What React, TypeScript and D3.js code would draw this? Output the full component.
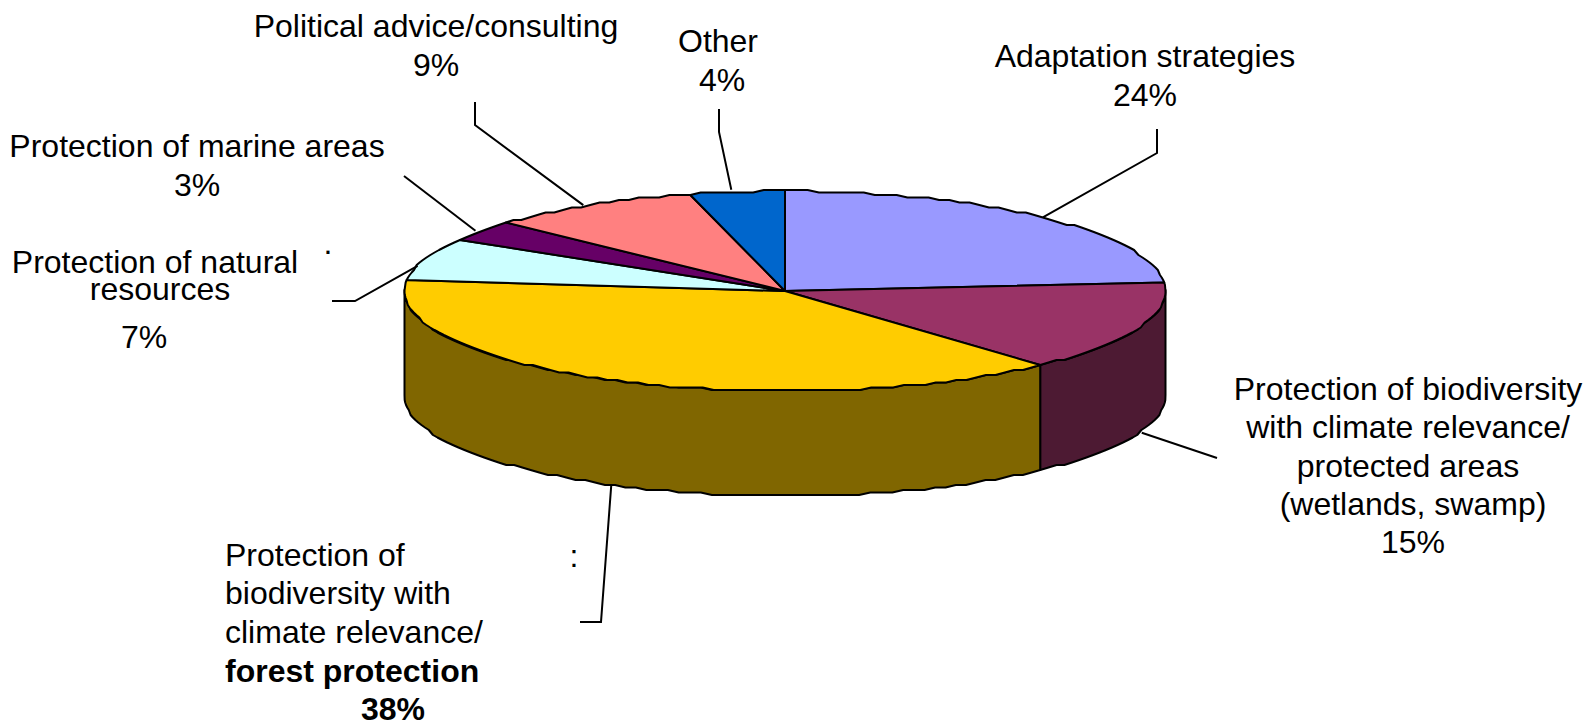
import React from 'react';
import * as d3 from 'd3';

const categories = [
  'Adaptation strategies',
  'Protection of biodiversity with climate relevance/protected areas',
  'Protection of biodiversity with climate relevance/forest protection',
  'Protection of natural resources',
  'Protection of marine areas',
  'Political advice/consulting',
  'Other',
];
const shares = [23.7, 14.6, 38.4, 7, 3.2, 9.1, 4];
const topColors = ['#9999FF', '#993366', '#FFCC00', '#CCFFFF', '#660066', '#FF8080', '#0066CC'];
const sideColors = ['#4D4D80', '#4D1A33', '#806600', '#668080', '#330033', '#804040', '#003366'];

// elbows of the leader lines, the last point is worked out from the slice
const leaderElbows: [number, number][][] = [
  [[1157, 129], [1157, 153]],
  [[1217, 458]],
  [[580, 622], [601, 622]],
  [[332, 301], [355, 301]],
  [[404, 176]],
  [[475, 102], [475, 125]],
  [[719, 109], [719, 132]],
];
// leaders do not hit the rim exactly at the middle of the slice
const leaderNudge: [number, number][] = [
  [0, 0],
  [3, 0],
  [-1, 0],
  [-7, 7],
  [-6, 0],
  [-7, 0],
  [-6, -2],
];

type Line = { t: string; x: number; y: number; bold?: boolean; anchor?: string };
const labels: Line[] = [
  { t: 'Adaptation strategies', x: 1145, y: 67 },
  { t: '24%', x: 1145, y: 106 },
  { t: 'Political advice/consulting', x: 436, y: 37 },
  { t: '9%', x: 436, y: 76 },
  { t: 'Other', x: 718, y: 52 },
  { t: '4%', x: 722, y: 91 },
  { t: 'Protection of marine areas', x: 197, y: 157 },
  { t: '3%', x: 197, y: 196 },
  { t: 'Protection of natural', x: 155, y: 273 },
  { t: 'resources', x: 160, y: 300 },
  { t: '7%', x: 144, y: 348 },
  { t: 'Protection of biodiversity', x: 1408, y: 400 },
  { t: 'with climate relevance/', x: 1408, y: 438 },
  { t: 'protected areas', x: 1408, y: 477 },
  { t: '(wetlands, swamp)', x: 1413, y: 515 },
  { t: '15%', x: 1413, y: 553 },
  { t: 'Protection of', x: 225, y: 566, anchor: 'start' },
  { t: 'biodiversity with', x: 225, y: 604, anchor: 'start' },
  { t: 'climate relevance/', x: 225, y: 643, anchor: 'start' },
  { t: 'forest protection', x: 225, y: 682, anchor: 'start', bold: true },
  { t: '38%', x: 393, y: 720, bold: true },
  // leftovers of cut off labels in the original
  { t: '.', x: 328, y: 254 },
  { t: ':', x: 574, y: 567 },
];

const cx = 785;
const cy = 291;
const rx = 380.5;
const ry = 100;
const depth = 105;

// the original outline is a coarse polygon on a rough grid, not a clean ellipse
const grid = 2.5;
const snap = (v: number) => Math.round(v / grid) * grid;
const ringX = (a: number) => cx + rx * Math.sin(a);
const ringY = (a: number) => cy - ry * Math.cos(a);
const rimPoint = (a: number) => [ringX(a), snap(ringY(a))] as [number, number];
const anglesBetween = (a0: number, a1: number) => {
  const n = Math.max(1, Math.ceil((a1 - a0) / 0.03));
  return d3.range(n + 1).map(i => a0 + ((a1 - a0) * i) / n);
};

const pie = d3.pie<number>().sort(null);
const slices = pie(shares);
const line = d3.line();

export default function App() {
  // only the front half of the rim can be seen
  const walls = slices
    .map((s, i) => {
      const a0 = Math.max(s.startAngle, Math.PI / 2);
      const a1 = Math.min(s.endAngle, (3 * Math.PI) / 2);
      if (a1 <= a0) return null;
      const rim = anglesBetween(a0, a1).map(rimPoint);
      const low = rim.map(p => [p[0], p[1] + depth] as [number, number]).reverse();
      return { i, d: line([...rim, ...low]) + 'Z' };
    })
    .filter(Boolean) as { i: number; d: string }[];

  return (
    <svg
      width={1586}
      height={723}
      style={{ position: 'absolute', left: 0, top: 0, background: '#fff' }}
      fontFamily="'Liberation Sans', Arial, sans-serif"
      fontSize={32}
    >
      {walls.map(w => (
        <path key={w.i} d={w.d} fill={sideColors[w.i]} stroke="#000" strokeWidth={2} strokeLinejoin="round" />
      ))}
      {slices.map((s, i) => {
        const rim = anglesBetween(s.startAngle, s.endAngle).map(rimPoint);
        return (
          <path
            key={categories[i]}
            d={line([[cx, cy], ...rim]) + 'Z'}
            fill={topColors[i]}
            stroke="#000"
            strokeWidth={2}
            strokeLinejoin="round"
          />
        );
      })}
      {slices.map((s, i) => {
        const mid = (s.startAngle + s.endAngle) / 2;
        const front = mid > Math.PI / 2 && mid < (3 * Math.PI) / 2;
        const end: [number, number] = [
          ringX(mid) + leaderNudge[i][0],
          ringY(mid) + (front ? depth : 0) + leaderNudge[i][1],
        ];
        return (
          <path
            key={'leader' + i}
            d={line([...leaderElbows[i], end]) ?? ''}
            fill="none"
            stroke="#000"
            strokeWidth={2}
          />
        );
      })}
      {labels.map(l => (
        <text
          key={l.t}
          x={l.x}
          y={l.y}
          textAnchor={l.anchor ?? 'middle'}
          fontWeight={l.bold ? 'bold' : 'normal'}
          fill="#000"
        >
          {l.t}
        </text>
      ))}
    </svg>
  );
}
